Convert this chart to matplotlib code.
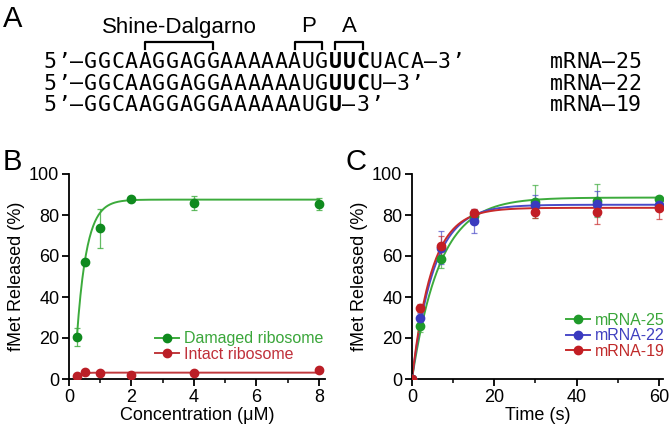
import numpy as np
import matplotlib
matplotlib.use("Agg")
import matplotlib.pyplot as plt
from matplotlib.lines import Line2D
from matplotlib.ticker import MultipleLocator

plt.rcParams['font.family'] = ['Liberation Sans', 'DejaVu Sans']

# ---- data ----
# panel A: sequences and bold (codon) positions
seqs = ["5’–GGCAAGGAGGAAAAAAUGUUCUACA–3’",
        "5’–GGCAAGGAGGAAAAAAUGUUCU–3’",
        "5’–GGCAAGGAGGAAAAAAUGU–3’"]
bold_idx = [[21, 22, 23], [21, 22, 23], [21]]
seq_names = ["mRNA–25", "mRNA–22", "mRNA–19"]

# panel B: concentration series
conc = [0.25, 0.5, 1, 2, 4, 8]
damaged = [20.5, 57, 73.5, 88, 86, 85.5]
damaged_err = [4.5, 1.0, 9.5, 1.0, 3.5, 3.0]
intact = [1.3, 3.2, 3.0, 2.0, 3.0, 4.2]
intact_err = [0.3, 0.3, 0.3, 0.3, 0.3, 0.3]
# fitted curves: top, rate, offset
fit_damaged = (87.5, 3.16, 0.168)
fit_intact = (3.1, 7.0, 0.18)

# panel C: time courses
time = [0, 2, 7, 15, 30, 45, 60]
m25 = [0, 26, 58.5, 79.5, 86.5, 87, 88]
m25_err = [0, 3, 4.5, 2.5, 8, 8, 1.5]
m22 = [0, 30, 64, 77, 85, 85.5, 85]
m22_err = [0, 2, 8, 6, 5, 6, 1.5]
m19 = [0, 34.5, 65, 81, 81.5, 81.5, 83.5]
m19_err = [0, 2, 5, 2, 3, 6, 5.5]
fit_m25 = (88.5, 0.148)
fit_m22 = (85.0, 0.187)
fit_m19 = (83.5, 0.208)

W, H = 672, 426
fig = plt.figure(figsize=(6.72, 4.26), dpi=100)


def fx(px):
    return px / W


def fy(py):
    return 1 - py / H


# ---- panel A ----
fig.text(fx(3), fy(27), "A", fontsize=21, va='baseline', ha='left')
x0, dx = 43, 13.6
row_base = [68, 89.5, 111]
for seq, bidx, base in zip(seqs, bold_idx, row_base):
    for i, ch in enumerate(seq):
        fig.text(fx(x0 + (i + 0.5) * dx), fy(base), ch, family='DejaVu Sans Mono',
                 fontsize=15.5, ha='center', va='baseline',
                 fontweight='bold' if i in bidx else 'normal')
for name, base in zip(seq_names, row_base):
    for i, ch in enumerate(name):
        fig.text(fx(550 + (i + 0.5) * 13.0), fy(base), ch, family='DejaVu Sans Mono',
                 fontsize=15.5, ha='center', va='baseline')


def bracket(i0, i1, label):
    xa = x0 + (i0 + 0.5) * dx
    xb = x0 + (i1 + 0.5) * dx
    xs = [fx(xa), fx(xa), fx(xb), fx(xb)]
    ys = [fy(48.5), fy(41.5), fy(41.5), fy(48.5)]
    fig.add_artist(Line2D(xs, ys, color='black', lw=1.6))
    fig.text(fx((xa + xb) / 2), fy(32.5), label, fontsize=16, ha='center', va='baseline')


bracket(7, 12, "Shine-Dalgarno")
bracket(18, 20, "P")
bracket(21, 23, "A")


def style(ax):
    for s in ['top', 'right']:
        ax.spines[s].set_visible(False)
    for s in ['left', 'bottom']:
        ax.spines[s].set_linewidth(1.3)
    ax.tick_params(which='major', direction='out', length=5, width=1.3, labelsize=13, pad=2)
    ax.tick_params(which='minor', direction='out', length=3, width=1.1)
    ax.tick_params(axis='y', which='minor', left=False)
    ax.set_ylim(0, 100)
    ax.yaxis.set_major_locator(MultipleLocator(20))
    ax.set_ylabel("fMet Released (%)", fontsize=13, labelpad=3)


# ---- panel B ----
axB = fig.add_axes([fx(69), fy(379), fx(325) - fx(69), fy(174) - fy(379)])
style(axB)
axB.set_xlim(0, 8.2)
axB.xaxis.set_major_locator(MultipleLocator(2))
axB.xaxis.set_minor_locator(MultipleLocator(1))
axB.set_xlabel("Concentration (μM)", fontsize=13, labelpad=1)

xs = np.linspace(conc[0], conc[-1], 400)
for y, e, fit, lc, mc, lab in [(damaged, damaged_err, fit_damaged, '#3cab3c', '#0f8a1e', 'Damaged ribosome'),
                               (intact, intact_err, fit_intact, '#c0393d', '#bb1e26', 'Intact ribosome')]:
    top, k, off = fit
    axB.plot(xs, top * (1 - np.exp(-k * (xs - off))), color=lc, lw=1.4, zorder=2)
    axB.errorbar(conc, y, yerr=e, fmt='none', ecolor=lc, elinewidth=0.9, capsize=2.5,
                 capthick=0.9, alpha=0.8, zorder=3)
    axB.plot(conc, y, 'o', color=mc, ms=6, zorder=4)
    axB.plot([], [], '-o', color=lc, mfc=mc, mec=mc, ms=6, lw=1.4, label=lab)
legB = axB.legend(loc='lower right', bbox_to_anchor=(1.023, 0.045), frameon=False, fontsize=11.5,
                  handlelength=1.5, handletextpad=0.3, borderpad=0, labelspacing=0.02)
for t, c in zip(legB.get_texts(), ['#3aa63a', '#c0303a']):
    t.set_color(c)
fig.text(fx(3), fy(170), "B", fontsize=21, va='baseline', ha='left')

# ---- panel C ----
axC = fig.add_axes([fx(412), fy(379), fx(663) - fx(412), fy(174) - fy(379)])
style(axC)
axC.set_xlim(0, 61)
axC.xaxis.set_major_locator(MultipleLocator(20))
axC.xaxis.set_minor_locator(MultipleLocator(10))
axC.set_xlabel("Time (s)", fontsize=13, labelpad=1)

ts = np.linspace(0, 60, 400)
for y, e, fit, lc, mc, lab in [(m25, m25_err, fit_m25, '#3cab3c', '#1f9a2a', 'mRNA-25'),
                               (m22, m22_err, fit_m22, '#4a4ac8', '#3a3abf', 'mRNA-22'),
                               (m19, m19_err, fit_m19, '#c82a2a', '#c21e24', 'mRNA-19')]:
    top, k = fit
    axC.plot(ts, top * (1 - np.exp(-k * ts)), color=lc, lw=1.4, zorder=2)
    axC.errorbar(time, y, yerr=e, fmt='none', ecolor=lc, elinewidth=0.9, capsize=2.5,
                 capthick=0.9, alpha=0.7, zorder=3)
    axC.plot(time, y, 'o', color=mc, ms=6, zorder=4)
    axC.plot([], [], '-o', color=lc, mfc=mc, mec=mc, ms=6, lw=1.4, label=lab)
legC = axC.legend(loc='lower right', bbox_to_anchor=(1.04, 0.06), frameon=False, fontsize=11.5,
                  handlelength=1.5, handletextpad=0.3, borderpad=0, labelspacing=0.02)
for t, c in zip(legC.get_texts(), ['#3aa63a', '#4040c0', '#c02a2a']):
    t.set_color(c)
fig.text(fx(346), fy(170), "C", fontsize=21, va='baseline', ha='left')

fig.savefig("out.png", dpi=100)
